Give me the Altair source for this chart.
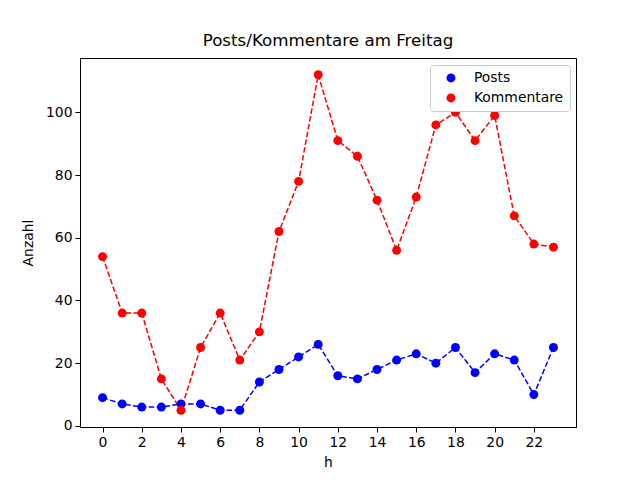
import altair as alt
import pandas as pd

hours = list(range(24))
posts = [9, 7, 6, 6, 7, 7, 5, 5, 14, 18, 22, 26, 16, 15, 18, 21, 23, 20, 25, 17, 23, 21, 10, 25]
kommentare = [54, 36, 36, 15, 5, 25, 36, 21, 30, 62, 78, 112, 91, 86, 72, 56, 73, 96, 100, 91, 99, 67, 58, 57]
series = ["Posts", "Kommentare"]
colors = ["#0000ff", "#ff0000"]
x_ticks = list(range(0, 23, 2))
y_ticks = list(range(0, 101, 20))

rows = []
for h, p, k in zip(hours, posts, kommentare):
    rows.append({"h": h, "Anzahl": p, "Serie": "Posts"})
    rows.append({"h": h, "Anzahl": k, "Serie": "Kommentare"})
df = pd.DataFrame(rows)

x = alt.X("h:Q", title="h", scale=alt.Scale(domain=[-1.15, 24.15], nice=False, zero=False),
          axis=alt.Axis(values=x_ticks, grid=False, titlePadding=7))
y = alt.Y("Anzahl:Q", title="Anzahl", scale=alt.Scale(domain=[-0.35, 117.35], nice=False, zero=False),
          axis=alt.Axis(values=y_ticks, grid=False, titlePadding=10))
legend = alt.Legend(title=None, orient="none", legendX=350, legendY=7,
                    symbolType="circle", symbolSize=80, labelFontSize=13.9,
                    labelFont="DejaVu Sans", labelColor="black",
                    symbolStrokeWidth=0, symbolDash=[0], symbolOffset=8,
                    padding=6, rowPadding=5, labelOffset=16,
                    strokeColor="#cccccc", fillColor="white",
                    cornerRadius=3, offset=0)
color = alt.Color("Serie:N", scale=alt.Scale(domain=series, range=colors), sort=series, legend=legend)

lines = alt.Chart(df).mark_line(strokeDash=[5.5, 2.4], strokeWidth=1.5).encode(
    x=x, y=y, color=color
)
points = alt.Chart(df).mark_point(filled=True, opacity=1, size=80, shape="circle").encode(
    x=x, y=y, color=color
)

chart = (lines + points).properties(
    width=496, height=369,
    title=alt.Title("Posts/Kommentare am Freitag", fontSize=16.7, font="DejaVu Sans",
                    fontWeight="normal", color="black", offset=8),
    autosize=alt.AutoSizeParams(type="none"),
    padding={"left": 72, "top": 50, "right": 56, "bottom": 45},
).configure_view(stroke="black", strokeWidth=1).configure_axis(
    labelFont="DejaVu Sans", titleFont="DejaVu Sans", labelFontSize=13.9, titleFontSize=13.9,
    titleFontWeight="normal", labelColor="black", titleColor="black",
    domainColor="black", tickColor="black", tickSize=5, labelPadding=3,
    domain=True
)

chart.save("out.html", embed_options={"renderer": "svg", "actions": False})
